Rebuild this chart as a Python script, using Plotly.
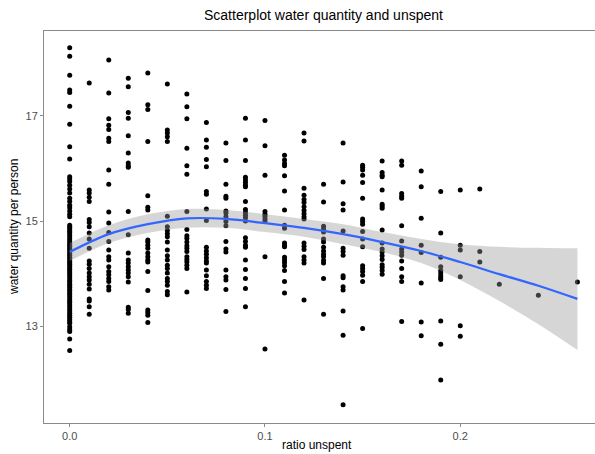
import plotly.graph_objects as go

# Ratio unspent levels (x) and the water quantity per person observed at each level
ratio_levels = [0.00, 0.01, 0.02, 0.03, 0.04, 0.05, 0.06, 0.07, 0.08, 0.09,
                0.10, 0.11, 0.12, 0.13, 0.14, 0.15, 0.16, 0.17, 0.18, 0.19,
                0.20, 0.21, 0.22, 0.24, 0.26]

q_000 = [18.29, 18.13, 17.77, 17.49, 17.44, 17.18, 16.84, 16.41, 16.18, 15.84,
         15.80, 15.75, 15.68, 15.61, 15.53, 15.43, 15.37, 15.30, 15.25, 15.19,
         15.13, 15.08,
         14.92, 14.88, 14.85, 14.81, 14.78, 14.74, 14.70, 14.66, 14.62, 14.58,
         14.55, 14.52, 14.48, 14.45, 14.41, 14.38, 14.35, 14.31, 14.28, 14.24,
         14.21, 14.18, 14.14, 14.10, 14.07, 14.03, 14.00, 13.96, 13.92, 13.88,
         13.85, 13.81, 13.78, 13.74, 13.70, 13.67, 13.63, 13.60, 13.56, 13.52,
         13.48, 13.45, 13.41, 13.37, 13.33, 13.29, 13.25, 13.21, 13.17, 13.13,
         13.09, 13.06,
         12.99, 12.94, 12.90, 12.76, 12.54]
q_001 = [17.62, 15.59, 15.53, 15.45, 15.37, 15.03, 14.97, 14.89, 14.77, 14.66,
         14.48, 14.24, 14.18, 14.10, 14.01, 13.94, 13.88, 13.80, 13.71, 13.52,
         13.48, 13.37, 13.23]
q_002 = [18.06, 17.43, 16.94, 16.82, 16.74, 16.57, 16.51, 15.97, 15.70, 15.17,
         14.96, 14.78, 14.61, 14.45, 14.32, 14.26, 14.13, 14.04, 13.98, 13.91,
         13.85, 13.75, 13.69]
q_003 = [17.71, 17.55, 17.06, 16.95, 16.62, 16.29, 16.10, 16.05, 16.02, 15.18,
         14.74, 14.39, 14.26, 14.20, 14.13, 14.07, 14.01, 13.94, 13.84, 13.36,
         13.32, 13.25]
q_004 = [17.81, 17.21, 17.12, 16.51, 15.48, 15.26, 15.21, 14.64, 14.60, 14.54,
         14.48, 14.39, 14.32, 14.26, 14.22, 14.04, 13.68, 13.31, 13.26, 13.21,
         13.07]
q_005 = [17.60, 16.73, 16.67, 16.60, 16.51, 15.09, 14.89, 14.82, 14.76, 14.70,
         14.60, 14.45, 14.34, 14.26, 14.16, 14.10, 14.01, 13.91, 13.85, 13.78,
         13.66, 13.60]
q_006 = [17.41, 17.17, 16.94, 16.38, 16.05, 15.89, 15.18, 14.84, 14.72, 14.67,
         14.60, 14.53, 14.48, 14.42, 14.32, 14.27, 14.22, 14.16, 14.10, 13.65]
q_007 = [16.87, 16.54, 16.40, 16.17, 16.03, 15.56, 15.51, 15.23, 15.01, 14.50,
         14.43, 14.37, 14.30, 14.24, 14.20, 14.07, 13.96, 13.85, 13.78, 13.72]
q_008 = [16.48, 16.15, 15.70, 15.47, 15.43, 15.19, 15.15, 15.08, 14.99, 14.91,
         14.61, 14.47, 14.41, 14.07, 13.94, 13.88, 13.70, 13.28]
q_009 = [16.95, 16.54, 16.15, 15.83, 15.78, 15.73, 15.68, 15.65, 15.37, 15.22,
         15.16, 15.11, 15.06, 15.00, 14.68, 14.61, 14.54, 14.50, 14.26, 14.08,
         13.91, 13.72, 13.37]
q_010 = [16.91, 16.43, 15.87, 15.18, 15.13, 15.09, 15.04, 15.00, 14.32, 12.57]
q_011 = [16.25, 16.16, 16.09, 16.05, 15.86, 15.57, 15.21, 14.92, 14.86, 14.58,
         14.54, 14.51, 14.31, 14.26, 14.21, 14.15, 14.06, 13.85, 13.63]
q_012 = [16.67, 16.52, 15.62, 15.49, 15.41, 15.35, 15.27, 15.20, 15.14, 15.08,
         15.04, 14.58, 14.52, 14.46, 14.32, 14.26, 14.20, 13.50]
q_013 = [15.70, 15.36, 14.90, 14.85, 14.79, 14.66, 14.60, 14.50, 14.43, 14.37,
         14.32, 14.25, 14.20, 13.91, 13.23]
q_014 = [16.48, 15.74, 15.33, 15.21, 14.81, 14.48, 14.42, 14.35, 13.96, 13.92,
         13.75, 13.69, 13.29, 12.83, 11.51]
q_015 = [16.06, 16.02, 15.97, 15.87, 15.73, 15.43, 15.04, 14.99, 14.94, 14.80,
         14.66, 14.51, 14.15, 14.10, 14.04, 13.97, 13.85, 12.96]
q_016 = [16.14, 15.92, 15.87, 15.84, 15.59, 15.32, 15.28, 15.24, 14.83, 14.58,
         14.47, 14.41, 14.34, 14.27, 14.17, 14.12, 14.06, 13.99]
q_017 = [16.14, 16.06, 15.52, 15.47, 15.43, 14.91, 14.62, 14.47, 14.41, 14.35,
         14.24, 14.10, 13.94, 13.85, 13.09]
q_018 = [15.95, 15.65, 15.05, 14.54, 14.40, 13.82, 13.08, 12.82]
q_019 = [15.56, 14.77, 14.31, 14.13, 14.06, 14.01, 13.96, 13.92, 13.89, 13.10,
         12.66, 11.98]
q_020 = [15.59, 14.54, 14.45, 13.94, 13.01, 12.81]
q_021 = [15.61, 14.42, 14.22]
q_022 = [13.80]
q_024 = [13.59]
q_026 = [13.84]

quantity_by_level = [q_000, q_001, q_002, q_003, q_004, q_005, q_006, q_007,
                     q_008, q_009, q_010, q_011, q_012, q_013, q_014, q_015,
                     q_016, q_017, q_018, q_019, q_020, q_021, q_022, q_024,
                     q_026]

# Loess smooth with its 95% confidence band
smooth_x = [0.00, 0.02, 0.04, 0.06, 0.08, 0.10, 0.12, 0.14, 0.16, 0.18,
            0.20, 0.22, 0.24, 0.26]
smooth_fit = [14.41, 14.75, 14.94, 15.05, 15.04, 14.96, 14.87, 14.75, 14.60,
              14.43, 14.22, 13.99, 13.77, 13.52]
smooth_upper = [14.58, 14.92, 15.13, 15.23, 15.21, 15.13, 15.04, 14.94, 14.79,
                14.66, 14.56, 14.51, 14.49, 14.48]
smooth_lower = [14.24, 14.58, 14.77, 14.87, 14.87, 14.79, 14.70, 14.56, 14.41,
                14.20, 13.88, 13.48, 13.04, 12.55]

ratio_unspent = []
water_quantity = []
for level, values in zip(ratio_levels, quantity_by_level):
    ratio_unspent.extend([level] * len(values))
    water_quantity.extend(values)

AXIS_GREY = "#8a8a8a"
TEXT_GREY = "#4d4d4d"
FONT = "Liberation Sans, Arial, sans-serif"

fig = go.Figure()

fig.add_trace(go.Scatter(
    x=ratio_unspent, y=water_quantity, mode="markers",
    marker=dict(color="black", size=5, line=dict(width=0)),
    showlegend=False, hoverinfo="x+y",
))

# confidence ribbon drawn over the points (semi-transparent grey)
fig.add_trace(go.Scatter(
    x=smooth_x, y=smooth_lower, mode="lines",
    line=dict(width=0, shape="spline"), showlegend=False, hoverinfo="skip",
))
fig.add_trace(go.Scatter(
    x=smooth_x, y=smooth_upper, mode="lines",
    line=dict(width=0, shape="spline"), fill="tonexty",
    fillcolor="rgba(153,153,153,0.4)", showlegend=False, hoverinfo="skip",
))
fig.add_trace(go.Scatter(
    x=smooth_x, y=smooth_fit, mode="lines",
    line=dict(color="#3366FF", width=2.2, shape="spline"),
    showlegend=False, hoverinfo="skip",
))

fig.update_layout(
    width=595, height=454,
    margin=dict(l=44, r=0, t=31, b=31),
    paper_bgcolor="white", plot_bgcolor="white",
    font=dict(family=FONT, color=TEXT_GREY, size=11),
    xaxis=dict(
        range=[-0.01316, 0.2690],
        tickvals=[0.0, 0.1, 0.2], ticktext=["0.0", "0.1", "0.2"],
        ticks="outside", ticklen=3, tickcolor=AXIS_GREY, tickwidth=1,
        showline=True, linecolor=AXIS_GREY, linewidth=1, mirror=True,
        showgrid=False, zeroline=False,
        tickfont=dict(size=11, color=TEXT_GREY),
    ),
    yaxis=dict(
        range=[11.163, 18.609],
        tickvals=[13, 15, 17], ticktext=["13", "15", "17"],
        ticks="outside", ticklen=3, tickcolor=AXIS_GREY, tickwidth=1,
        showline=True, linecolor=AXIS_GREY, linewidth=1, mirror=False,
        showgrid=False, zeroline=False,
        tickfont=dict(size=11, color=TEXT_GREY),
    ),
    annotations=[
        dict(text="Scatterplot water quantity and unspent", xref="paper", yref="paper",
             x=0.508, y=1, yshift=16, xanchor="center", yanchor="middle",
             showarrow=False, font=dict(size=14, color="black", family=FONT)),
        dict(text="ratio unspent", xref="paper", yref="paper",
             x=0.4955, y=0, yshift=-22, xanchor="center", yanchor="middle",
             showarrow=False, font=dict(size=12, color="black", family=FONT)),
        dict(text="water quantity per person", xref="paper", yref="paper",
             x=0, xshift=-30, y=0.5, xanchor="center", yanchor="middle",
             textangle=-90, showarrow=False,
             font=dict(size=12, color="black", family=FONT)),
    ],
)

fig.write_html("out.html")
